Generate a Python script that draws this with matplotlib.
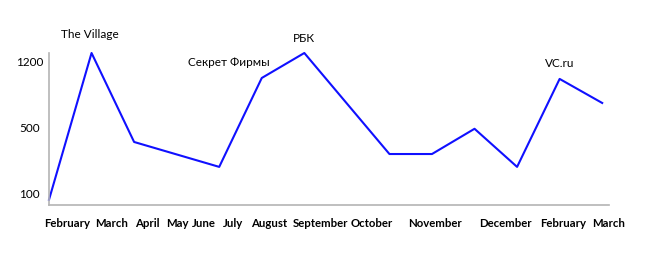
import numpy as np
import matplotlib
matplotlib.use("Agg")
import matplotlib.pyplot as plt

# month slots 0..13, two slots (May, mid-September) have no point
x_idx = [0, 1, 2, 4, 5, 6, 8, 9, 10, 11, 12, 13]
views = [65, 1295, 415, 264, 1030, 1295, 342, 342, 495, 264, 1020, 765]

month_labels = ["February", "March", "April", "May", "June", "July", "August",
                "September", "October", "November", "December", "February", "March"]
label_pos = [0.42, 1.47, 2.32, 3.01, 3.64, 4.32, 5.17, 6.38, 7.58, 9.08, 10.72, 12.09, 13.16]

y_ticks = [100, 500, 1200]

notes = ["The Village", "Секрет Фирмы", "РБК", "VC.ru"]
note_at = [(1, 1295), (5, 1030), (6, 1295), (12, 1020)]
note_off = [(-2, 18), (-33, 15), (0, 14), (0, 15)]  # pixels

# uneven axis: 100 -> 500 -> 1200 drawn at equal steps
sp_x = [0, 100, 500, 1200, 2000]
sp_y = [-0.25, 0, 1, 2, 2 + 800 / 700]


def fwd(v):
    return np.interp(v, sp_x, sp_y)


def inv(v):
    return np.interp(v, sp_y, sp_x)


plt.rcParams['font.family'] = ['Lato', 'DejaVu Sans']

fig = plt.figure(figsize=(6.48, 2.54), dpi=100)
ax = fig.add_axes([49 / 648, 49 / 254, 560 / 648, 152 / 254])
ax.set_yscale('function', functions=(fwd, inv))

ax.plot(x_idx, views, color='#1010ff', lw=1.5, clip_on=False)

ax.set_xlim(0, 13)
ax.set_ylim(33, 1295)

ax.set_xticks(label_pos, month_labels, fontsize=8.2, fontweight='bold')
ax.set_yticks(y_ticks, [str(v) for v in y_ticks], fontsize=8.5)
ax.tick_params(axis='x', length=0, pad=9.5)
ax.tick_params(axis='y', length=0, pad=14)
for lbl in ax.get_yticklabels():
    lbl.set_horizontalalignment('center')
ax.minorticks_off()

for s in ['top', 'right']:
    ax.spines[s].set_visible(False)
for s in ['left', 'bottom']:
    ax.spines[s].set_color('#b4b4b4')
    ax.spines[s].set_linewidth(1.2)

for t, xy, off in zip(notes, note_at, note_off):
    ax.annotate(t, xy, xytext=off, textcoords='offset pixels',
                ha='center', va='center', fontsize=8.5, annotation_clip=False)

fig.savefig("out.png", dpi=100)
